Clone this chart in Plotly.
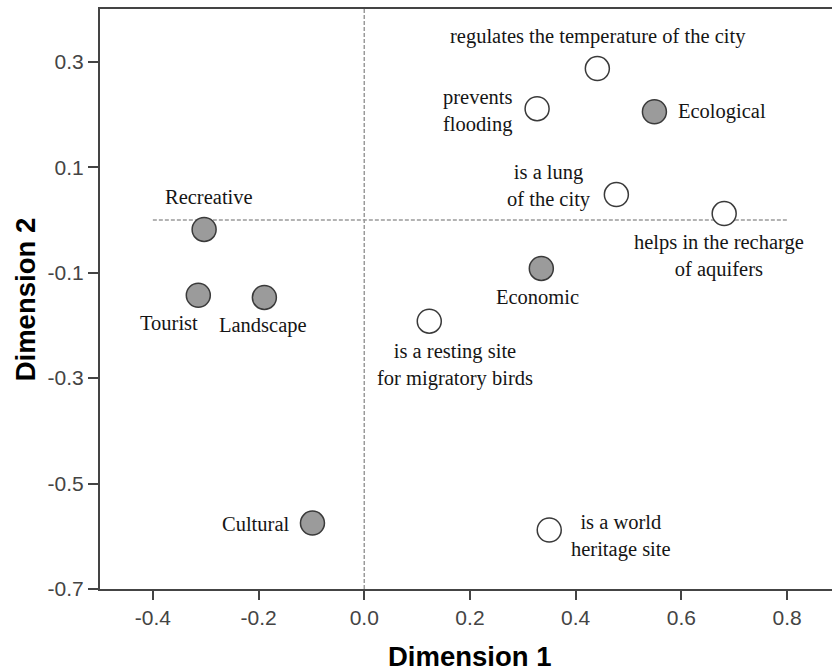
import plotly.graph_objects as go

# Category points (filled grey)
cat_names = ["Recreative", "Tourist", "Landscape", "Cultural", "Economic", "Ecological"]
cat_dim1 = [-0.303, -0.314, -0.189, -0.098, 0.335, 0.549]
cat_dim2 = [-0.018, -0.143, -0.147, -0.575, -0.092, 0.205]

# Attribute points (open white)
attr_names = [
    "regulates the temperature of the city",
    "prevents<br>flooding",
    "is a lung<br>of the city",
    "helps in the recharge<br>of aquifers",
    "is a resting site<br>for migratory birds",
    "is a world<br>heritage site",
]
attr_dim1 = [0.441, 0.327, 0.477, 0.681, 0.123, 0.350]
attr_dim2 = [0.287, 0.211, 0.048, 0.012, -0.192, -0.588]

x_ticks = [-0.4, -0.2, 0.0, 0.2, 0.4, 0.6, 0.8]
y_ticks = [0.3, 0.1, -0.1, -0.3, -0.5, -0.7]

# label placement (style): xanchor, xshift, yshift
cat_label_style = [
    ("center", 5, 32),
    ("center", -29, -28),
    ("center", -1, -28),
    ("right", -21, -1),
    ("center", -4, -29),
    ("left", 22, 0),
]
attr_label_style = [
    ("center", 1, 32),
    ("right", -23, -2),
    ("right", -23, 9),
    ("center", -5, -42),
    ("center", 26, -44),
    ("left", 20, -6),
]

fig = go.Figure()

# reference lines
fig.add_shape(type="line", xref="x", yref="paper", x0=0, x1=0, y0=0, y1=1,
              line=dict(color="#9a9a9a", width=1.5, dash="4px,2px"), layer="below")
fig.add_shape(type="line", xref="x", yref="y", x0=x_ticks[0], x1=x_ticks[-1], y0=0, y1=0,
              line=dict(color="#9a9a9a", width=1.5, dash="4px,2px"), layer="below")

fig.add_trace(go.Scatter(
    x=cat_dim1, y=cat_dim2, mode="markers",
    marker=dict(size=24, color="#9b9b9b", line=dict(color="#3a3a3a", width=1.5)),
    showlegend=False, hoverinfo="skip"))
fig.add_trace(go.Scatter(
    x=attr_dim1, y=attr_dim2, mode="markers",
    marker=dict(size=24, color="#ffffff", line=dict(color="#3a3a3a", width=1.5)),
    showlegend=False, hoverinfo="skip"))

label_font = dict(family="Liberation Serif, Times New Roman, serif", size=20.5, color="#151515")
for names, xs, ys, styles in [(cat_names, cat_dim1, cat_dim2, cat_label_style),
                               (attr_names, attr_dim1, attr_dim2, attr_label_style)]:
    for n, xv, yv, (xa, xs_, ys_) in zip(names, xs, ys, styles):
        fig.add_annotation(x=xv, y=yv, xref="x", yref="y", text=n, showarrow=False,
                           xanchor=xa, yanchor="middle", xshift=xs_, yshift=ys_,
                           align="center", font=label_font)

# axis titles
title_font = dict(family="Liberation Sans, Arial, sans-serif", size=27.5, color="#000000")
fig.add_annotation(text="<b>Dimension 1</b>", xref="paper", yref="paper",
                   x=0.5055, y=-0.117, xanchor="center", yanchor="middle",
                   showarrow=False, font=title_font)
fig.add_annotation(text="<b>Dimension 2</b>", xref="paper", yref="paper",
                   x=-0.102, y=0.5, xanchor="center", yanchor="middle", textangle=-90,
                   showarrow=False, font=title_font)

tick_font = dict(family="Liberation Sans, Arial, sans-serif", size=21, color="#444444")
fig.update_xaxes(range=[-0.5, 0.885], tickvals=x_ticks, ticktext=[f"{v:.1f}" for v in x_ticks],
                 showgrid=False, zeroline=False, showline=True, linecolor="#444444", linewidth=2,
                 mirror=True, ticks="outside", ticklen=9, tickwidth=2, tickcolor="#444444",
                 tickfont=tick_font)
fig.update_yaxes(range=[-0.7, 0.4], tickvals=y_ticks, ticktext=[f"{v:.1f}" for v in y_ticks],
                 showgrid=False, zeroline=False, showline=True, linecolor="#444444", linewidth=2,
                 ticks="outside", ticklen=10, tickwidth=2, tickcolor="#444444",
                 tickfont=tick_font)

fig.update_layout(width=832, height=672, margin=dict(l=100, r=0, t=9, b=83),
                  plot_bgcolor="white", paper_bgcolor="white")

fig.write_html("out.html")
